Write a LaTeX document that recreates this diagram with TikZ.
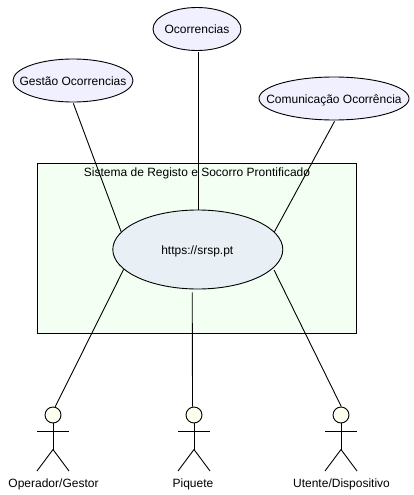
\documentclass[tikz,border=0pt]{standalone}
\usepackage{fontspec}
\setmainfont{Liberation Sans}
\usetikzlibrary{calc}
\usetikzlibrary{shapes.geometric}
\definecolor{casefill}{HTML}{F0F0FF}
\definecolor{sysfill}{HTML}{F4FFF4}
\definecolor{mainfill}{HTML}{E9F0F5}
\definecolor{headfill}{HTML}{FFFFF0}
\newcommand{\casetxt}[1]{\makebox[0pt]{\raisebox{-4.8pt}[0pt][0pt]{#1}}}
\tikzstyle{lbl} = [font=\fontsize{12}{14}\selectfont, text height=1.5ex, text depth=.25ex, inner sep=0]
\tikzstyle{casenode} = [draw, ellipse, fill=casefill, inner sep=0, minimum height=43, font=\fontsize{12}{14}\selectfont]
\tikzstyle{mainnode} = [draw, ellipse, fill=mainfill, inner sep=0, minimum width=170, minimum height=79, font=\fontsize{12}{14}\selectfont]
\tikzstyle{sysnode} = [draw, fill=sysfill, inner sep=0, minimum width=319, minimum height=170]
\tikzstyle{headnode} = [draw, circle, fill=headfill, inner sep=0, minimum size=16]
\tikzstyle{wire} = [line width=0.9pt]

\begin{document}
\begin{tikzpicture}[x=1pt, y=-1pt, line width=0.9pt]
    \useasboundingbox (0,0) rectangle (414,495);
    \node[sysnode] (sys) at (196.5,248) {};
    \node[lbl] (sys_title) at (197,173) {Sistema de Registo e Socorro Prontificado};

    \node[casenode, minimum width=88] (ocorr) at (197,29) {\casetxt{Ocorrencias}};
    \node[casenode, minimum width=120] (gestao) at (73,80.5) {\casetxt{Gestão Ocorrencias}};
    \node[casenode, minimum width=150] (comun) at (334,98.5) {\casetxt{Comunicação Ocorrência}};
    \node[mainnode] (site) at (197.8,249.5) {\hspace{-1pt}\casetxt{https://srsp.pt}};

    \draw[wire, shorten <=1pt] ($(ocorr.south)+(1.5,0)$) -- ($(site.north)+(0.7,0)$);
    \draw[wire, shorten <=1pt] (gestao.south) -- (site.167);
    \draw[wire, shorten <=1pt] (comun.south) ++(1,0) -- (site.13);

    % operador
    \node[headnode] (oper_head) at (53,415) {};
    \coordinate (oper_neck) at ($(oper_head)+(0,8)$);
    \coordinate (oper_hip) at ($(oper_head)+(0,34.5)$);
    \coordinate (oper_arml) at ($(oper_head)+(-16,16)$);
    \coordinate (oper_armr) at ($(oper_head)+(16,16)$);
    \coordinate (oper_legl) at ($(oper_head)+(-16,56)$);
    \coordinate (oper_legr) at ($(oper_head)+(16,56)$);
    \draw (oper_neck) -- (oper_hip);
    \draw (oper_arml) -- (oper_armr);
    \draw (oper_legl) -- (oper_hip) -- (oper_legr);
    \node[lbl] (oper_lbl) at ($(oper_head)+(0.5,69)$) {Operador/Gestor};

    % piquete
    \node[headnode] (piq_head) at (194,415) {};
    \coordinate (piq_neck) at ($(piq_head)+(0,8)$);
    \coordinate (piq_hip) at ($(piq_head)+(0,34.5)$);
    \coordinate (piq_arml) at ($(piq_head)+(-16,16)$);
    \coordinate (piq_armr) at ($(piq_head)+(16,16)$);
    \coordinate (piq_legl) at ($(piq_head)+(-16,56)$);
    \coordinate (piq_legr) at ($(piq_head)+(16,56)$);
    \draw (piq_neck) -- (piq_hip);
    \draw (piq_arml) -- (piq_armr);
    \draw (piq_legl) -- (piq_hip) -- (piq_legr);
    \node[lbl] (piq_lbl) at ($(piq_head)+(-1,69)$) {Piquete};

    % utente
    \node[headnode] (ut_head) at (341,415) {};
    \coordinate (ut_neck) at ($(ut_head)+(0,8)$);
    \coordinate (ut_hip) at ($(ut_head)+(0,34.5)$);
    \coordinate (ut_arml) at ($(ut_head)+(-16,16)$);
    \coordinate (ut_armr) at ($(ut_head)+(16,16)$);
    \coordinate (ut_legl) at ($(ut_head)+(-16,56)$);
    \coordinate (ut_legr) at ($(ut_head)+(16,56)$);
    \draw (ut_neck) -- (ut_hip);
    \draw (ut_arml) -- (ut_armr);
    \draw (ut_legl) -- (ut_hip) -- (ut_legr);
    \node[lbl] (ut_lbl) at ($(ut_head)+(0.5,69)$) {Utente/Dispositivo};

    \draw[wire] (site.195) -- (oper_head.75);
    \draw[wire, shorten <=3pt] (site.262) -- (piq_head.100);
    \draw[wire, shorten <=2pt] (site.346) -- (ut_head.88);
\end{tikzpicture}
\end{document}
